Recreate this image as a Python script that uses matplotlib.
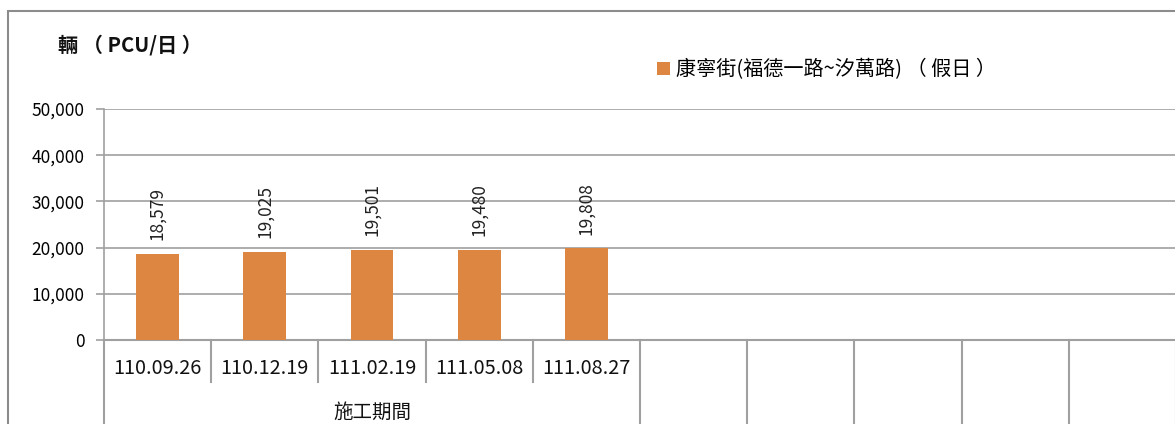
import matplotlib
matplotlib.use("Agg")
from matplotlib import pyplot as plt
from matplotlib.patches import Rectangle

plt.rcParams['font.family'] = ['Noto Sans CJK TC', 'DejaVu Sans']

dates = ["110.09.26", "110.12.19", "111.02.19", "111.05.08", "111.08.27",
         "", "", "", "", ""]
volume = [18579, 19025, 19501, 19480, 19808]
group_name = "施工期間"
series_name = "康寧街(福德一路~汐萬路) （ 假日 ）"
y_ticks = [0, 10000, 20000, 30000, 40000, 50000]

bar_color = "#DD8641"
line_gray = "#A0A0A0"

fig = plt.figure(figsize=(11.75, 4.24), dpi=100)
ax = fig.add_axes([104 / 1175, 84 / 424, 1072 / 1175, 231 / 424])

x = list(range(len(volume)))
ax.bar(x, volume, width=0.4, color=bar_color, label=series_name, zorder=3)

# rotated value labels
for xi, v in zip(x, volume):
    ax.annotate(f"{v:,}", (xi, v), xytext=(0, 10), textcoords="offset points",
                rotation=90, ha="center", va="bottom", fontsize=12.5, color="#222222")

ax.set_xlim(-0.5, len(dates) - 0.5)
ax.set_ylim(0, 50000)
ax.set_yticks(y_ticks)
ax.set_yticklabels([f"{t:,}" for t in y_ticks], fontsize=12.5)
ax.yaxis.grid(True, color=line_gray, linewidth=1.2, zorder=0)
ax.tick_params(axis="y", length=6, color=line_gray, width=1.2, pad=8)
ax.set_xticks([])

for s in ["top", "right"]:
    ax.spines[s].set_visible(False)
ax.spines["left"].set_color(line_gray)
ax.spines["left"].set_linewidth(1.2)
ax.spines["bottom"].set_color(line_gray)
ax.spines["bottom"].set_linewidth(1.5)

# category table below the axis
trans = ax.get_xaxis_transform()
n_group = len(volume)
for i, d in enumerate(dates):
    if d:
        ax.text(i, -0.125, d, transform=trans, ha="center", va="center",
                fontsize=14.3, color="#111111")
for k in range(len(dates) + 1):
    xb = k - 0.5
    if 0 < k < n_group:
        y_end = -0.182
    else:
        y_end = -0.5
    ax.plot([xb, xb], [0, y_end], transform=trans, color=line_gray,
            linewidth=1.5, clip_on=False)
ax.text((n_group - 1) / 2, -0.315, group_name, transform=trans, ha="center",
        va="center", fontsize=14, color="#111111")

# axis title
fig.text(58 / 1175, 1 - 45 / 424, "輛 （ PCU/日 ）", fontsize=14.5,
         fontweight="bold", ha="left", va="center", color="#111111")

ax.legend(loc="center left", bbox_to_anchor=(657 / 1175, 1 - 70 / 424),
          bbox_transform=fig.transFigure, frameon=False, fontsize=14.5,
          handlelength=0.65, handleheight=0.65, handletextpad=0.3,
          borderaxespad=0, borderpad=0)

# outer chart border
fig.patches.append(Rectangle((8 / 1175, -0.1), 1.2, 1.1 - 11 / 424,
                             transform=fig.transFigure, fill=False,
                             edgecolor="#8C8C8C", linewidth=1.5))

fig.savefig("out.png", dpi=100)
